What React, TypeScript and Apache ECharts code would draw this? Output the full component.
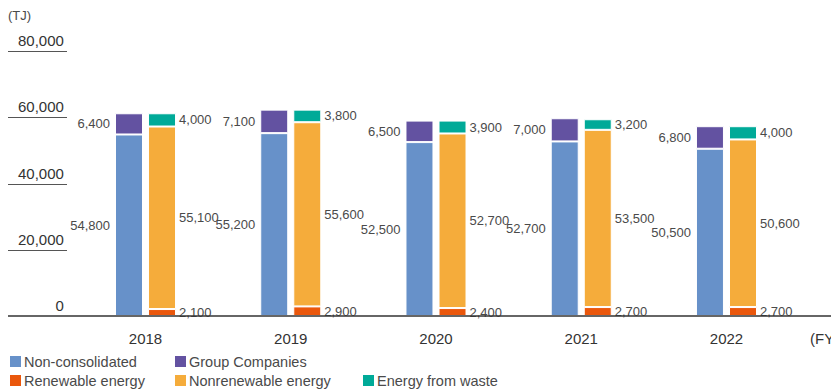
import React, { useEffect, useRef } from "react";
import * as echarts from "echarts";

const years = ["2018", "2019", "2020", "2021", "2022"];
const nonConsolidated = [54800, 55200, 52500, 52700, 50500];
const groupCompanies = [6400, 7100, 6500, 7000, 6800];
const renewable = [2100, 2900, 2400, 2700, 2700];
const nonrenewable = [55100, 55600, 52700, 53500, 50600];
const energyFromWaste = [4000, 3800, 3900, 3200, 4000];
const yTicks = [0, 20000, 40000, 60000, 80000];

const FONT = "'Liberation Sans', Arial, sans-serif";
const TEXT = "#4a4a4a";
const fmt = (v: number) => v.toLocaleString("en-US");

export default function App() {
  const ref = useRef<HTMLDivElement>(null);
  useEffect(() => {
    document.body.style.margin = "0";
    const chart = echarts.init(ref.current!, null, { renderer: "svg" });
    const mk = (
      name: string,
      data: number[],
      stack: string,
      color: string,
      side: "left" | "right"
    ) => ({
      name,
      type: "bar",
      stack,
      data,
      barWidth: 28,
      barGap: "18%",
      itemStyle: { color, borderColor: "#ffffff", borderWidth: 1 },
      label: {
        show: true,
        position: side,
        distance: side === "left" ? 5 : 3,
        formatter: (p: any) => fmt(p.value),
        fontFamily: FONT,
        fontSize: 13,
        color: TEXT,
      },
    });
    const legendItem = (name: string, left: number, top: number) => ({
      data: [name],
      left,
      top,
      icon: "rect",
      itemWidth: 13,
      itemHeight: 13,
      padding: 0,
      selectedMode: false,
      textStyle: { fontFamily: FONT, fontSize: 14.5, color: TEXT, padding: [0, 0, 0, -3] },
    });
    chart.setOption({
      animation: false,
      grid: { left: 72.9, right: 31.9, top: 51, bottom: 74 },
      xAxis: {
        type: "category",
        data: years,
        axisLine: { show: false },
        axisTick: { show: false },
        axisLabel: { fontFamily: FONT, fontSize: 15, color: "#333", margin: 15 },
      },
      yAxis: {
        type: "value",
        min: 0,
        max: 80000,
        interval: 20000,
        splitLine: { show: false },
        axisLine: { show: false },
        axisTick: { show: false },
        axisLabel: {
          fontFamily: FONT,
          fontSize: 15,
          color: "#333",
          margin: 9,
          verticalAlign: "bottom",
          padding: [0, 0, 3, 0],
          formatter: (v: number) => fmt(v),
        },
      },
      legend: [
        legendItem("Non-consolidated", 8, 354),
        legendItem("Group Companies", 173, 354),
        legendItem("Renewable energy", 8, 373),
        legendItem("Nonrenewable energy", 173, 373),
        legendItem("Energy from waste", 361, 373),
      ],
      series: [
        mk("Non-consolidated", nonConsolidated, "A", "#6791c9", "left"),
        mk("Group Companies", groupCompanies, "A", "#6352a1", "left"),
        mk("Renewable energy", renewable, "B", "#ea570c", "right"),
        mk("Nonrenewable energy", nonrenewable, "B", "#f5ac3b", "right"),
        mk("Energy from waste", energyFromWaste, "B", "#00aa98", "right"),
      ],
    });
    const y0 = chart.convertToPixel({ yAxisIndex: 0 }, 0) as number;
    const graphics: any[] = yTicks
      .filter((v) => v !== 0)
      .map((v) => {
        const y = Math.round(chart.convertToPixel({ yAxisIndex: 0 }, v) as number) + 0.5;
        return {
          type: "line",
          shape: { x1: 8, y1: y, x2: 67, y2: y },
          style: { stroke: "#555", lineWidth: 1 },
        };
      });
    graphics.push({
      type: "line",
      z: 10,
      shape: { x1: 8, y1: y0, x2: 831, y2: y0 },
      style: { stroke: "#333", lineWidth: 1.5 },
    });
    graphics.push({
      type: "text",
      left: 8,
      top: 9,
      style: { text: "(TJ)", fontFamily: FONT, fontSize: 13, fill: TEXT },
    });
    graphics.push({
      type: "text",
      left: 810,
      top: y0 + 15,
      style: { text: "(FY)", fontFamily: FONT, fontSize: 15, fill: "#333" },
    });
    chart.setOption({ graphic: graphics });
    return () => chart.dispose();
  }, []);
  return (
    <div
      ref={ref}
      style={{ position: "absolute", left: 0, top: 0, width: 831, height: 390 }}
    />
  );
}
